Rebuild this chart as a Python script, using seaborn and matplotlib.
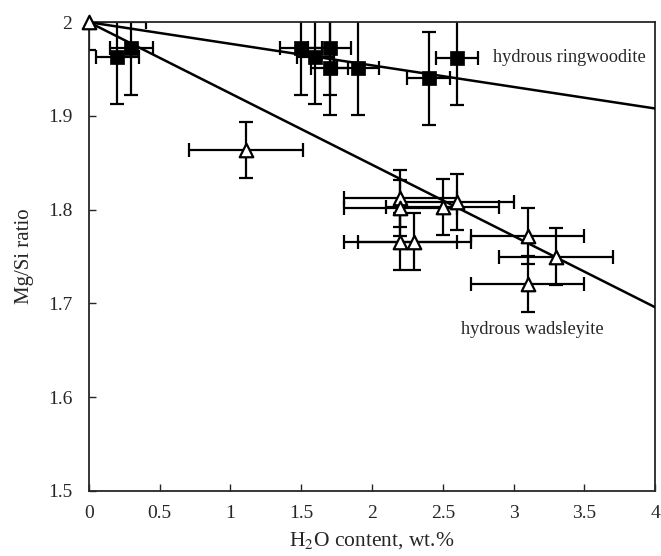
import numpy as np
import pandas as pd
import matplotlib
matplotlib.use("Agg")
import matplotlib.pyplot as plt
import seaborn as sns

# hydrous ringwoodite (filled squares)
ring_h2o = [0.2, 0.3, 1.5, 1.6, 1.7, 1.7, 1.9, 2.4, 2.6]
ring_mgsi = [1.963, 1.972, 1.972, 1.963, 1.972, 1.951, 1.951, 1.94, 1.962]
ring_xerr = [0.15, 0.15, 0.15, 0.13, 0.15, 0.13, 0.15, 0.15, 0.15]
ring_yerr = [0.05, 0.05, 0.05, 0.05, 0.05, 0.05, 0.05, 0.05, 0.05]

# hydrous wadsleyite (open triangles)
wads_h2o = [0.0, 1.11, 2.2, 2.2, 2.5, 2.6, 2.2, 2.3, 3.1, 3.3, 3.1]
wads_mgsi = [2.0, 1.864, 1.812, 1.802, 1.803, 1.808, 1.766, 1.766, 1.772, 1.75, 1.721]
wads_xerr = [0.4] * 11
wads_yerr = [0.03] * 11

# fitted lines
fit_x = [0, 4]
ring_fit = [2.0, 1.908]
wads_fit = [2.0, 1.696]

sns.set_style("ticks")
plt.rcParams['font.family'] = ['Liberation Serif', 'DejaVu Serif']
plt.rcParams['mathtext.fontset'] = 'stix'

fig = plt.figure(figsize=(6.61, 5.56), dpi=100)
ax = fig.add_axes([0.1346, 0.117, 0.8564, 0.843])

ax.errorbar(ring_h2o, ring_mgsi, xerr=ring_xerr, yerr=ring_yerr, fmt='none',
            ecolor='black', elinewidth=1.6, capsize=5, capthick=1.6, zorder=2)
ax.errorbar(wads_h2o, wads_mgsi, xerr=wads_xerr, yerr=wads_yerr, fmt='none',
            ecolor='black', elinewidth=1.6, capsize=5, capthick=1.6, zorder=2)

fits = pd.DataFrame({"x": fit_x * 2, "y": ring_fit + wads_fit,
                     "phase": ["ring"] * 2 + ["wads"] * 2})
sns.lineplot(data=fits, x="x", y="y", units="phase", estimator=None,
             color="black", linewidth=1.8, ax=ax, zorder=3)

sns.scatterplot(x=ring_h2o, y=ring_mgsi, marker='s', s=90, color='black',
                edgecolor='black', linewidth=0.5, ax=ax, zorder=4)
sns.scatterplot(x=wads_h2o, y=wads_mgsi, marker='^', s=95, facecolor='white',
                edgecolor='black', linewidth=1.6, ax=ax, zorder=4, clip_on=False)

ax.text(2.855, 1.962, "hydrous ringwoodite", fontsize=13.2, va='center', ha='left')
ax.text(2.63, 1.672, "hydrous wadsleyite", fontsize=13.2, va='center', ha='left')

ax.set_xlim(0, 4)
ax.set_ylim(1.5, 2.0)
ax.set_xticks([0, 0.5, 1, 1.5, 2, 2.5, 3, 3.5, 4])
ax.set_xticklabels(["0", "0.5", "1", "1.5", "2", "2.5", "3", "3.5", "4"])
ax.set_yticks([1.5, 1.6, 1.7, 1.8, 1.9, 2.0])
ax.set_yticklabels(["1.5", "1.6", "1.7", "1.8", "1.9", "2"])
ax.tick_params(direction='in', length=5, width=1, labelsize=14, pad=10)
ax.tick_params(axis='y', pad=12)
for sp in ax.spines.values():
    sp.set_linewidth(1.3)
    sp.set_visible(True)

ax.set_xlabel("H$_2$O content, wt.%", fontsize=15.5, labelpad=6)
ax.set_ylabel("Mg/Si ratio", fontsize=15, labelpad=10)

fig.savefig("out.png", dpi=100)
